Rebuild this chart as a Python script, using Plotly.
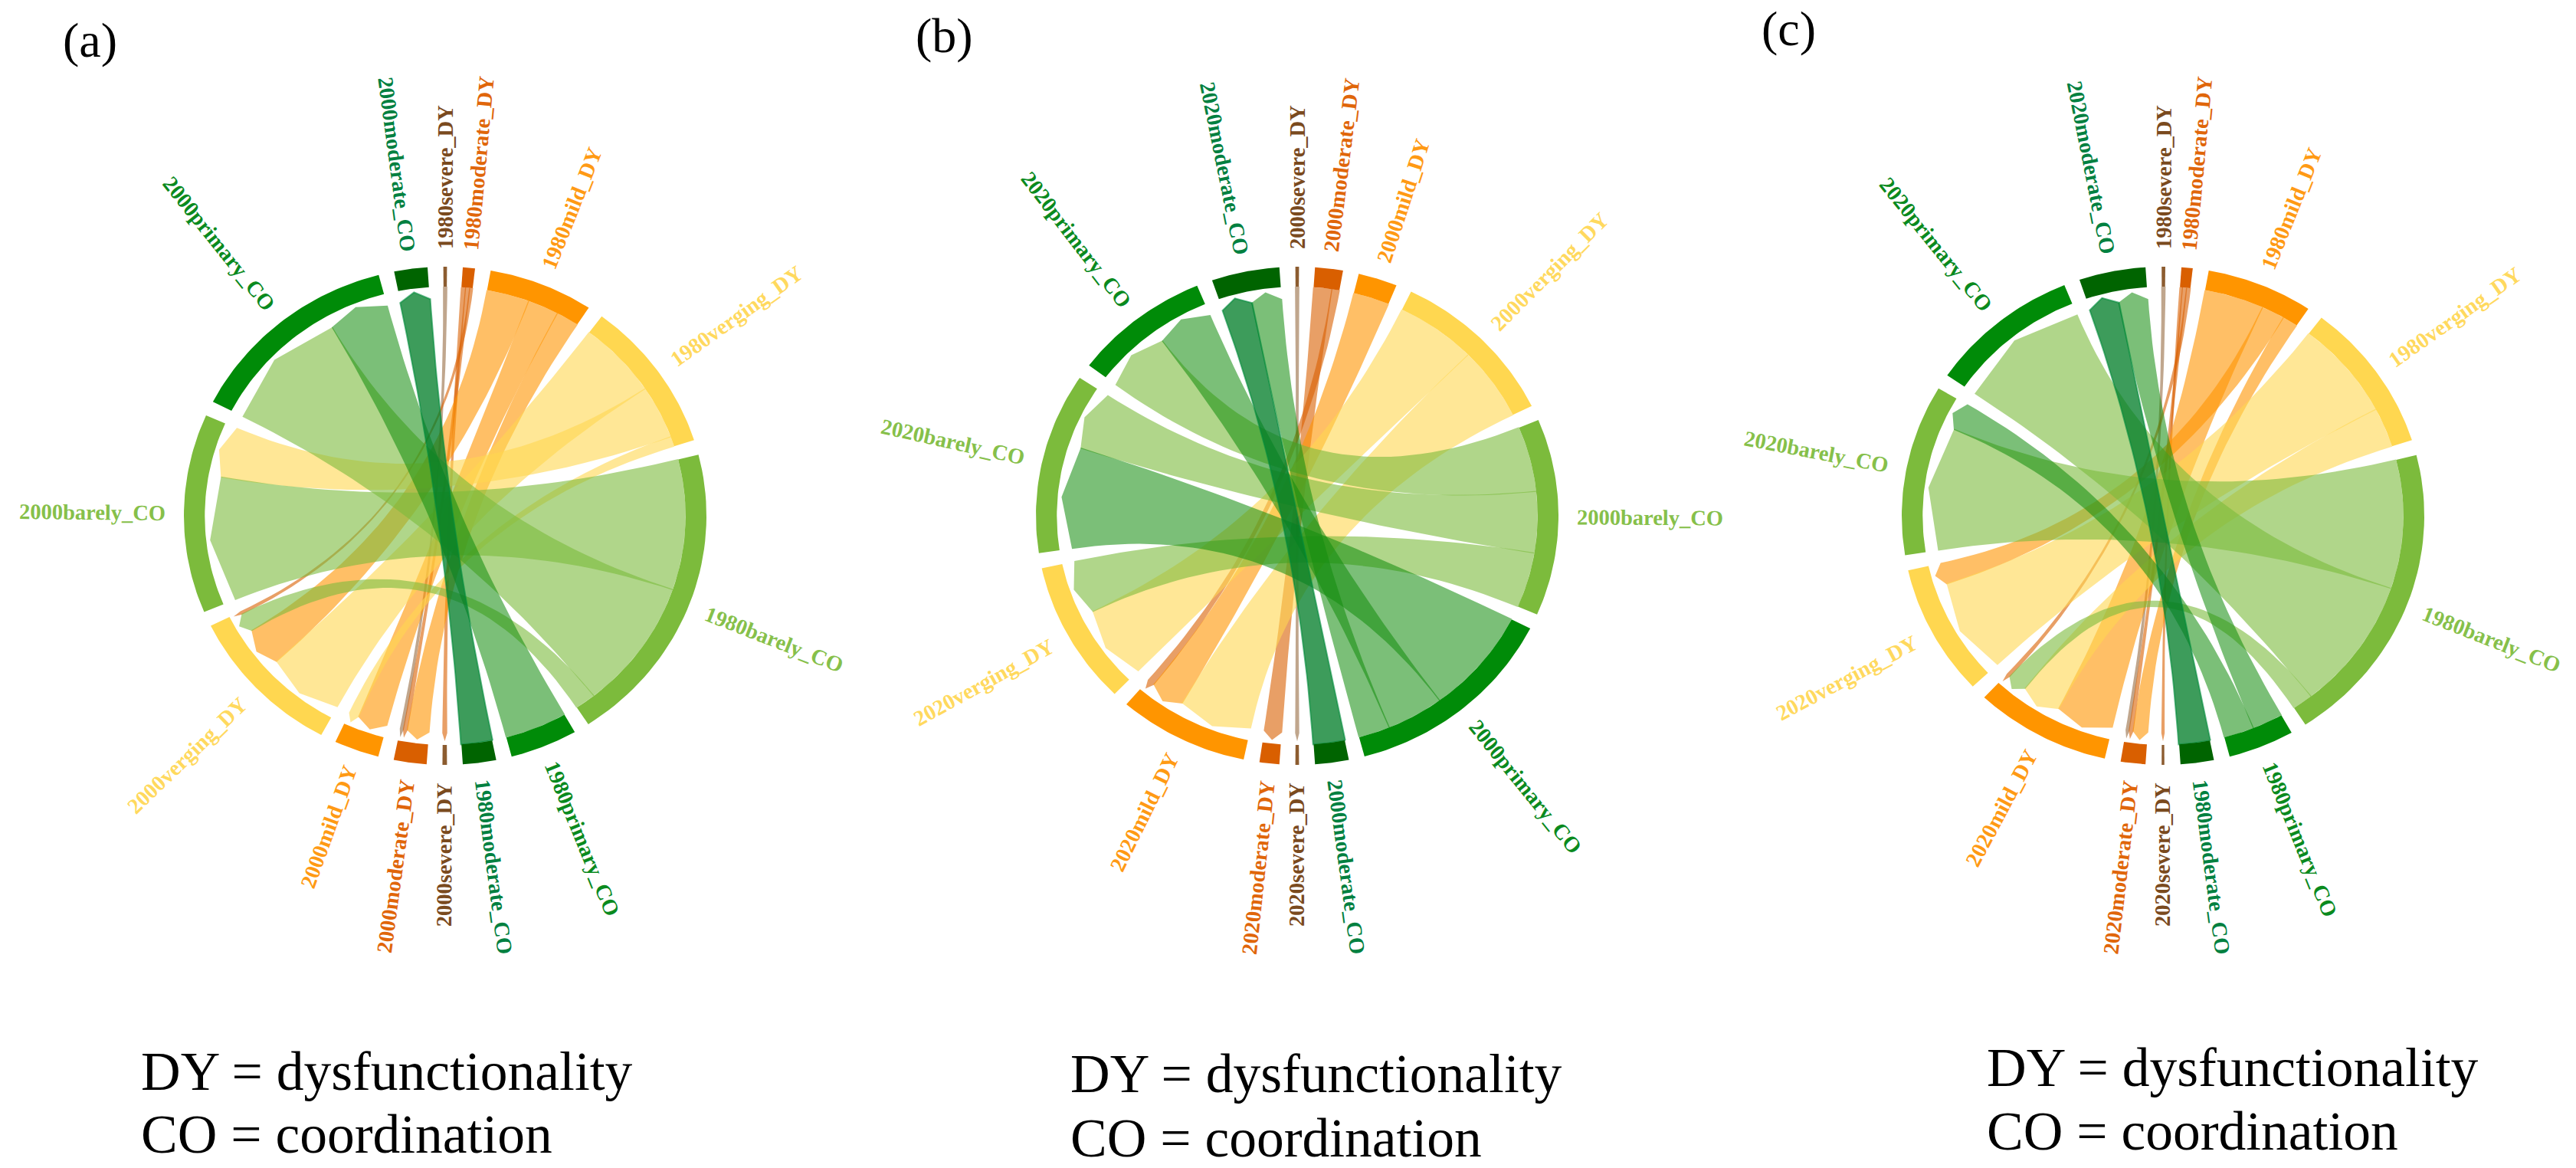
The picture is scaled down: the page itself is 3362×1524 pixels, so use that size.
import math
import numpy as np
import plotly.graph_objects as go

W, H = 3362, 1524
CLASSES = ["severe_DY", "moderate_DY", "mild_DY", "verging_DY", "barely_CO", "primary_CO", "moderate_CO"]
SEV, MOD, MIL, VER, BAR, PRI, MCO = range(7)

RING_COLORS = ["#8c5c30", "#d95f00", "#ff9500", "#ffd750", "#7cbb3c", "#008b08", "#006400"]
LINK_COLORS = ["rgba(140,92,48,0.55)", "rgba(217,95,0,0.6)", "rgba(255,149,0,0.6)", "rgba(255,215,80,0.6)",
               "rgba(124,187,60,0.6)", "rgba(20,140,15,0.56)", "rgba(0,125,40,0.76)"]
LABEL_COLORS = ["#7a4a1e", "#e0660a", "#ff9a14", "#ffd95e", "#86c04a", "#0a8a1e", "#008040"]
LABEL_EM = [6.609, 8.002, 5.889, 7.166, 6.722, 7.555, 8.058]

# Diagram (a): 1980 -> 2000, values in degrees of arc, listed in clockwise order on the source sector
A_YEARS = ("1980", "2000")
A_SRC = [SEV, MOD, MOD, MOD, MIL, MIL, MIL, VER, VER, VER, BAR, BAR, BAR, PRI, MCO]
A_DST = [MOD, SEV, MOD, VER, VER, MIL, MOD, VER, BAR, MIL, BAR, PRI, VER, PRI, MCO]
A_VAL = [0.8, 1.0, 1.0, 0.7, 10.3, 7.5, 5.5, 19.5, 13.5, 2.5, 33.0, 33.0, 5.0, 15.0, 7.4]
A_DST_ORDER = {SEV: [MOD], MOD: [MIL, MOD, SEV], MIL: [MIL, VER], VER: [VER, MIL, BAR, MOD],
               BAR: [BAR, VER], PRI: [BAR, PRI], MCO: [MCO]}

# Diagram (b): 2000 -> 2020
B_YEARS = ("2000", "2020")
B_SRC = [SEV, MOD, MOD, MIL, VER, VER, BAR, BAR, BAR, PRI, PRI, PRI, MCO]
B_DST = [SEV, MOD, MIL, MIL, VER, MIL, PRI, BAR, VER, BAR, PRI, MCO, MCO]
B_VAL = [0.8, 4.4, 1.8, 8.7, 19.5, 18.5, 16.5, 15.5, 14.0, 26.8, 13.8, 7.6, 7.5]
B_DST_ORDER = {SEV: [SEV], MOD: [MOD], MIL: [VER, MIL, MOD], VER: [VER, BAR],
               BAR: [PRI, BAR], PRI: [BAR, PRI], MCO: [MCO, PRI]}

# Diagram (c): 1980 -> 2020
C_YEARS = ("1980", "2020")
C_SRC = [SEV, MOD, MOD, MOD, MIL, MIL, MIL, VER, VER, BAR, BAR, BAR, PRI, PRI, MCO]
C_DST = [MOD, SEV, MOD, MIL, MIL, VER, MOD, VER, MIL, BAR, PRI, MIL, MCO, BAR, MCO]
C_VAL = [0.8, 0.6, 1.0, 0.9, 14.4, 5.6, 3.7, 25.0, 10.0, 32.6, 33.5, 5.0, 7.4, 7.3, 7.4]
C_DST_ORDER = {SEV: [MOD], MOD: [MIL, MOD, SEV], MIL: [MIL, VER, BAR, MOD], VER: [VER, MIL],
               BAR: [BAR, PRI], PRI: [BAR], MCO: [MCO, PRI]}

PANEL_TAGS = ["(a)", "(b)", "(c)"]
NOTE_LINES = ["DY = dysfunctionality", "CO = coordination"]

# Panel placement in page pixels
CENTERS = [(581, 673), (1693, 673), (2823, 673)]
RX, RY = 341, 325
DOMAINS = [(0, 1125), (1125, 2262), (2262, 3362)]
START = [-0.4, -0.4, -0.3]
TAG_POS = [(80, 53), (1193, 47), (2297, 37)]
NOTE_POS = [(182, 1397, 1479), (1395, 1400, 1484), (2591, 1392, 1475)]

R_OUT, R_IN = 1.0, 0.92
R_TIP, R_SHOULDER = 0.905, 0.872
R_LABEL = 1.07
LABEL_SIZE = 28.5
LINK_PAD = 0.12


def pol(angle, r):
    t = np.radians(angle)
    return r * np.sin(t), r * np.cos(t)


def bezier(p0, p2, n=40):
    t = np.linspace(0, 1, n)
    return (1 - t) ** 2 * p0[0] + t ** 2 * p2[0], (1 - t) ** 2 * p0[1] + t ** 2 * p2[1]


fig = go.Figure()
annotations = []
diagrams = [(A_YEARS, A_SRC, A_DST, A_VAL, A_DST_ORDER),
            (B_YEARS, B_SRC, B_DST, B_VAL, B_DST_ORDER),
            (C_YEARS, C_SRC, C_DST, C_VAL, C_DST_ORDER)]

layout_axes = {}
for k, (years, src, dst, val, dst_order) in enumerate(diagrams):
    suffix = "" if k == 0 else str(k + 1)
    cx, cy = CENTERS[k]
    x0, x1 = DOMAINS[k]
    layout_axes["xaxis" + suffix] = dict(domain=[x0 / W, x1 / W], range=[(x0 - cx) / RX, (x1 - cx) / RX],
                                         visible=False, fixedrange=True)
    layout_axes["yaxis" + suffix] = dict(domain=[0, 1], range=[(cy - H) / RY, cy / RY],
                                         visible=False, fixedrange=True)
    xa, ya = "x" + suffix, "y" + suffix

    n_c = len(CLASSES)
    src_tot = [sum(v for s, v in zip(src, val) if s == c) for c in range(n_c)]
    dst_tot = [sum(v for d, v in zip(dst, val) if d == c) for c in range(n_c)]
    gap = (360 - sum(src_tot) - sum(dst_tot)) / (2 * n_c)

    angle = START[k]
    src_start, dst_start = [], []
    for c in range(n_c):
        src_start.append(angle)
        angle += src_tot[c] + gap
    for c in range(n_c):
        dst_start.append(angle)
        angle += dst_tot[c] + gap

    # positions of the flows on their sectors
    src_cursor = list(src_start)
    src_span = []
    for s, v in zip(src, val):
        src_span.append((src_cursor[s], src_cursor[s] + v))
        src_cursor[s] += v
    dst_span = {}
    for d in range(n_c):
        a = dst_start[d]
        for s in dst_order[d]:
            v = next(v for s2, d2, v in zip(src, dst, val) if s2 == s and d2 == d)
            dst_span[(s, d)] = (a, a + v)
            a += v

    # ribbons, with the moderate_CO ribbon drawn last
    ribbons = sorted(zip(src, dst, val, src_span), key=lambda item: item[0] == MCO)
    for s, d, v, (a0, a1) in ribbons:
        b0, b1 = dst_span[(s, d)]
        a0, a1 = a0 - LINK_PAD, a1 + LINK_PAD
        b0, b1 = b0 - LINK_PAD, b1 + LINK_PAD
        arc = np.linspace(a0, a1, 24)
        xs, ys = [list(u) for u in pol(arc, R_IN)]
        bx, by = bezier(pol(a1, R_IN), pol(b0, R_SHOULDER))
        xs += list(bx)
        ys += list(by)
        mx, my = pol((b0 + b1) / 2, R_TIP)
        ex, ey = pol(b1, R_SHOULDER)
        xs += [mx, ex]
        ys += [my, ey]
        bx, by = bezier(pol(b1, R_SHOULDER), pol(a0, R_IN))
        xs += list(bx)
        ys += list(by)
        outline = dict(width=2, color="rgba(0,140,60,0.6)") if s == MCO else dict(width=0)
        fig.add_trace(go.Scatter(x=xs, y=ys, mode="lines", fill="toself", fillcolor=LINK_COLORS[s],
                                 line=outline, hoverinfo="skip", xaxis=xa, yaxis=ya, showlegend=False))

    # ring sectors and labels
    for year, starts, totals in ((years[0], src_start, src_tot), (years[1], dst_start, dst_tot)):
        for c in range(n_c):
            a0, a1 = starts[c], starts[c] + totals[c]
            arc = np.linspace(a0, a1, 40)
            ox, oy = pol(arc, R_OUT)
            ix, iy = pol(arc[::-1], R_IN)
            fig.add_trace(go.Scatter(x=np.r_[ox, ix], y=np.r_[oy, iy], mode="lines", fill="toself",
                                     fillcolor=RING_COLORS[c], line=dict(width=0), hoverinfo="skip",
                                     xaxis=xa, yaxis=ya, showlegend=False))
            label = year + CLASSES[c]
            mid = (a0 + a1) / 2 % 360
            ux, uy = pol(mid, 1.0)
            half = LABEL_EM[c] * LABEL_SIZE / 2
            lx = (ux * R_LABEL * RX + ux * half) / RX
            ly = (uy * R_LABEL * RY + uy * half) / RY
            if mid < 180:
                tangle = -math.degrees(math.atan2(uy, ux))
            else:
                tangle = -math.degrees(math.atan2(-uy, -ux))
            annotations.append(dict(x=lx, y=ly, xref=xa, yref=ya, text="<b>" + label + "</b>", showarrow=False,
                                    textangle=tangle, xanchor="center", yanchor="middle",
                                    font=dict(family="Liberation Serif", size=LABEL_SIZE, color=LABEL_COLORS[c])))

    # panel tag and notes
    tx, ty = TAG_POS[k]
    annotations.append(dict(x=tx / W, y=1 - ty / H, xref="paper", yref="paper", text=PANEL_TAGS[k], showarrow=False,
                            xanchor="left", yanchor="middle", font=dict(family="Liberation Serif", size=64, color="#000000")))
    nx, ny1, ny2 = NOTE_POS[k]
    for line, ny in zip(NOTE_LINES, (ny1, ny2)):
        annotations.append(dict(x=nx / W, y=1 - ny / H, xref="paper", yref="paper", text=line, showarrow=False,
                                xanchor="left", yanchor="middle", font=dict(family="Liberation Serif", size=71.5, color="#000000")))

fig.update_layout(width=W, height=H, margin=dict(l=0, r=0, t=0, b=0), paper_bgcolor="white",
                  plot_bgcolor="white", showlegend=False, annotations=annotations, **layout_axes)
fig.write_html("out.html", config={"displayModeBar": False}, post_script="document.body.style.margin='0';")
